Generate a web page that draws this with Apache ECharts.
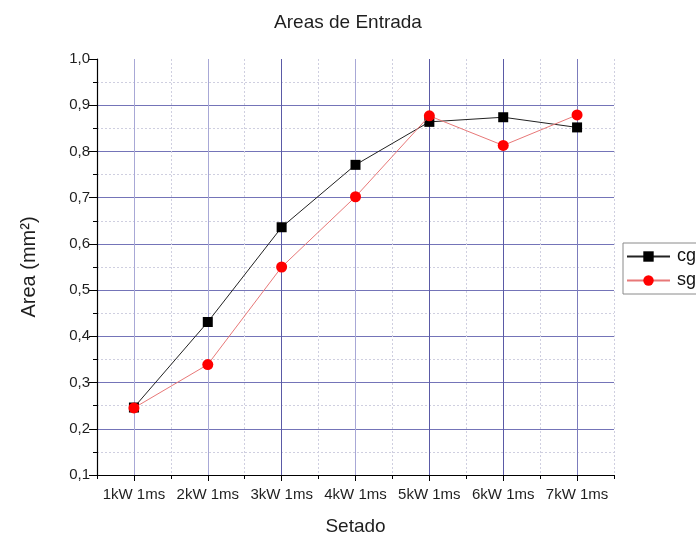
<!DOCTYPE html>
<html>
<head>
<meta charset="utf-8">
<script src="https://cdn.jsdelivr.net/npm/echarts@6/dist/echarts.min.js"></script>
<style>
  html, body { margin: 0; padding: 0; background: #fff; }
  #chart { width: 696px; height: 541px; }
</style>
</head>
<body>
<div id="chart"></div>
<script>
// Categories (power setting / pulse time)
const categories = ['1kW 1ms', '2kW 1ms', '3kW 1ms', '4kW 1ms', '5kW 1ms', '6kW 1ms', '7kW 1ms'];
// Entry area, mm²
const cgValues = [0.246, 0.431, 0.636, 0.771, 0.864, 0.874, 0.852];
const sgValues = [0.245, 0.339, 0.550, 0.702, 0.877, 0.813, 0.879];
// Y axis range
const yMin = 0.1;
const yMax = 1.0;
const yStep = 0.1;

const FONT = 'Liberation Sans, Arial, sans-serif';
const TEXT = '#1e1e1e';
const minorGrid = { color: '#cfcfe0', width: 1, type: [2, 2] };

const chart = echarts.init(document.getElementById('chart'), null, { renderer: 'canvas' });

chart.setOption({
  backgroundColor: '#ffffff',
  animation: false,
  textStyle: { fontFamily: FONT },
  title: {
    text: 'Areas de Entrada',
    left: 'center',
    top: 8,
    textStyle: { fontFamily: FONT, fontSize: 19, fontWeight: 'normal', color: TEXT }
  },
  legend: {
    orient: 'vertical',
    left: 623,
    top: 243,
    padding: [4, 30, 4, 3],
    itemWidth: 43,
    itemHeight: 13,
    itemGap: 5,
    borderColor: '#8a8a8a',
    borderWidth: 1,
    textStyle: { fontFamily: FONT, fontSize: 18, lineHeight: 19, color: '#111', padding: [0, 0, 0, 2] },
    data: ['cg', 'sg']
  },
  grid: { left: 97, right: 82, top: 59, bottom: 62, containLabel: false },
  xAxis: [
    {
      // boundary ticks and dotted minor grid
      type: 'category',
      data: categories,
      boundaryGap: true,
      position: 'bottom',
      axisLine: { show: true, lineStyle: { color: '#000', width: 1.2 } },
      axisTick: { show: true, interval: 0, length: 4, lineStyle: { color: '#000' } },
      axisLabel: { show: false },
      splitLine: { show: true, interval: 0, lineStyle: minorGrid },
      name: 'Setado',
      nameLocation: 'middle',
      nameGap: 42,
      nameTextStyle: { fontFamily: FONT, fontSize: 19, color: TEXT }
    },
    {
      // category ticks, labels and major grid
      type: 'category',
      data: categories,
      boundaryGap: true,
      position: 'bottom',
      axisLine: { show: false },
      axisTick: { show: true, interval: 0, alignWithLabel: true, length: 6, lineStyle: { color: '#000' } },
      axisLabel: { show: true, interval: 0, margin: 12, fontFamily: FONT, fontSize: 15, color: TEXT },
      splitLine: {
        show: true,
        interval: 0,
        alignWithLabel: true,
        lineStyle: {
          width: 1,
          color: ['#a8a8d6', '#a8a8d6', '#5a5aa6', '#a8a8d6', '#5a5aa6', '#5a5aa6', '#7c7cbc']
        }
      }
    }
  ],
  yAxis: {
    type: 'value',
    min: yMin,
    max: yMax,
    interval: yStep,
    axisLine: { show: true, lineStyle: { color: '#000', width: 1.2 } },
    axisTick: { show: true, length: 8, lineStyle: { color: '#000' } },
    minorTick: { show: true, splitNumber: 2, length: 4, lineStyle: { color: '#000' } },
    axisLabel: {
      margin: 7,
      fontFamily: FONT,
      fontSize: 15,
      color: TEXT,
      formatter: v => v.toFixed(1).replace('.', ',')
    },
    splitLine: {
      show: true,
      showMinLine: false,
      showMaxLine: false,
      lineStyle: { width: 1, color: '#7474b8' }
    },
    minorSplitLine: { show: true, lineStyle: minorGrid },
    name: 'Area (mm²)',
    nameLocation: 'middle',
    nameGap: 58,
    nameTextStyle: { fontFamily: FONT, fontSize: 20, color: TEXT }
  },
  series: [
    {
      name: 'cg',
      type: 'line',
      xAxisIndex: 0,
      data: cgValues,
      symbol: 'rect',
      symbolSize: 10,
      itemStyle: { color: '#000000' },
      lineStyle: { color: '#222', width: 1 },
      z: 3
    },
    {
      name: 'sg',
      type: 'line',
      xAxisIndex: 0,
      data: sgValues,
      symbol: 'circle',
      symbolSize: 11,
      itemStyle: { color: '#ff0000' },
      lineStyle: { color: '#e87878', width: 1 },
      z: 4
    }
  ]
});
</script>
</body>
</html>
